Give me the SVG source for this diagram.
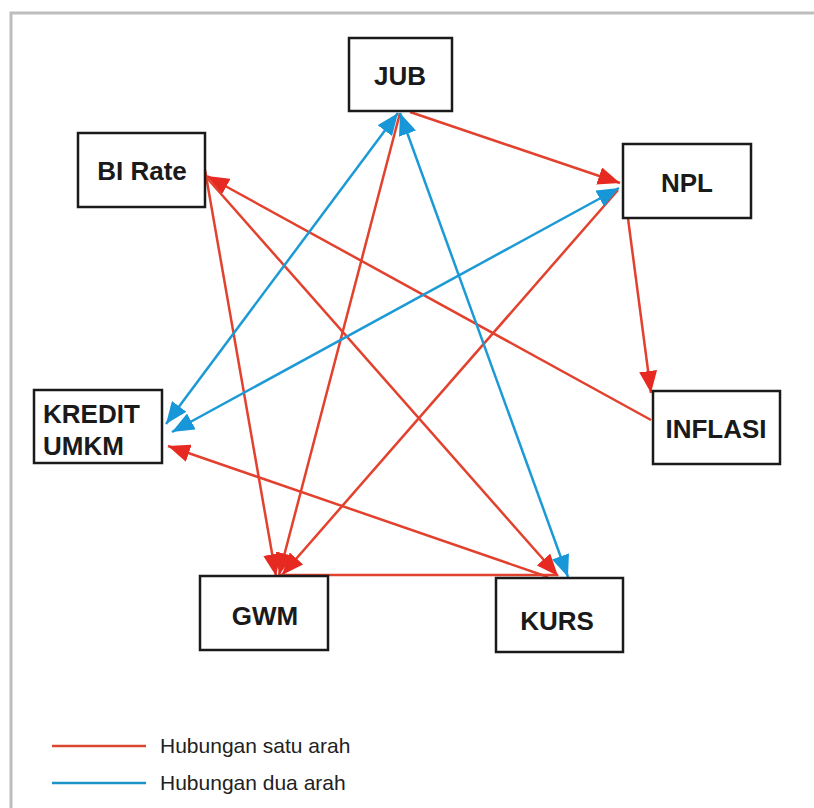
<svg xmlns="http://www.w3.org/2000/svg" width="814" height="808" viewBox="0 0 814 808">
  <style>
    .box { fill: #ffffff; stroke: #1a1a1a; stroke-width: 2.5; }
    .label { font-family: "Liberation Sans", Arial, sans-serif; font-weight: bold; font-size: 26px; fill: #1a1a1a; }
    .legend { font-family: "Liberation Sans", Arial, sans-serif; font-size: 21px; fill: #222222; }
    .one { stroke: #e2412e; stroke-width: 2.5; fill: none; }
    .two { stroke: #1c9ad6; stroke-width: 2.5; fill: none; }
  </style>
  <defs>
    <marker id="headRed" markerUnits="userSpaceOnUse" viewBox="0 0 22 18" refX="22" refY="9" markerWidth="22" markerHeight="18" orient="auto">
      <path d="M0,0 L22,9 L0,18 Z" fill="#e62a22"/>
    </marker>
    <marker id="headBlue" markerUnits="userSpaceOnUse" viewBox="0 0 22 18" refX="22" refY="9" markerWidth="22" markerHeight="18" orient="auto-start-reverse">
      <path d="M0,0 L22,9 L0,18 Z" fill="#1797d8"/>
    </marker>
  </defs>

  <rect width="814" height="808" fill="#ffffff"/>
  <!-- outer frame -->
  <path d="M11,808 L11,13 L814,13" fill="none" stroke="#bdbdbd" stroke-width="3"/>

  <g id="connectors">
    <!-- one-way relations -->
    <line class="one" x1="410" y1="112" x2="620" y2="183" marker-end="url(#headRed)"/>
    <line class="one" x1="624" y1="188" x2="651" y2="393" marker-end="url(#headRed)"/>
    <line class="one" x1="651" y1="420" x2="207" y2="176" marker-end="url(#headRed)"/>
    <line class="one" x1="205" y1="170" x2="276" y2="576" marker-end="url(#headRed)"/>
    <line class="one" x1="207" y1="178" x2="558" y2="576" marker-end="url(#headRed)"/>
    <line class="one" x1="400" y1="113" x2="279" y2="575" marker-end="url(#headRed)"/>
    <line class="one" x1="618" y1="190" x2="282" y2="575" marker-end="url(#headRed)"/>
    <line class="one" x1="548" y1="577" x2="168" y2="446" marker-end="url(#headRed)"/>
    <line class="one" x1="278" y1="575" x2="556" y2="575"/>
    <!-- two-way relations -->
    <line class="two" x1="398" y1="113" x2="166" y2="424" marker-start="url(#headBlue)" marker-end="url(#headBlue)"/>
    <line class="two" x1="619" y1="188" x2="172" y2="432" marker-start="url(#headBlue)" marker-end="url(#headBlue)"/>
    <line class="two" x1="400" y1="113" x2="568" y2="577" marker-start="url(#headBlue)" marker-end="url(#headBlue)"/>
  </g>

  <g id="jub">
    <rect class="box" x="349" y="38" width="103" height="73"/>
    <text class="label" x="400" y="85" text-anchor="middle">JUB</text>
  </g>
  <g id="bi-rate">
    <rect class="box" x="78" y="133" width="127" height="74"/>
    <text class="label" x="142" y="180" text-anchor="middle">BI Rate</text>
  </g>
  <g id="npl">
    <rect class="box" x="623" y="144" width="128" height="74"/>
    <text class="label" x="687" y="192" text-anchor="middle">NPL</text>
  </g>
  <g id="kredit-umkm">
    <rect class="box" x="34" y="390" width="128" height="73"/>
    <text class="label" x="43" y="423">KREDIT</text>
    <text class="label" x="43" y="455">UMKM</text>
  </g>
  <g id="inflasi">
    <rect class="box" x="653" y="391" width="127" height="73"/>
    <text class="label" x="716" y="438" text-anchor="middle">INFLASI</text>
  </g>
  <g id="gwm">
    <rect class="box" x="200" y="576" width="128" height="74"/>
    <text class="label" x="265" y="625" text-anchor="middle">GWM</text>
  </g>
  <g id="kurs">
    <rect class="box" x="496" y="578" width="127" height="74"/>
    <text class="label" x="557" y="630" text-anchor="middle">KURS</text>
  </g>

  <g id="legend">
    <line x1="52" y1="746" x2="146" y2="746" stroke="#d9472e" stroke-width="2.5"/>
    <text class="legend" x="160" y="753">Hubungan satu arah</text>
    <line x1="52" y1="783" x2="146" y2="783" stroke="#1c93c9" stroke-width="2.5"/>
    <text class="legend" x="160" y="790">Hubungan dua arah</text>
  </g>
</svg>
